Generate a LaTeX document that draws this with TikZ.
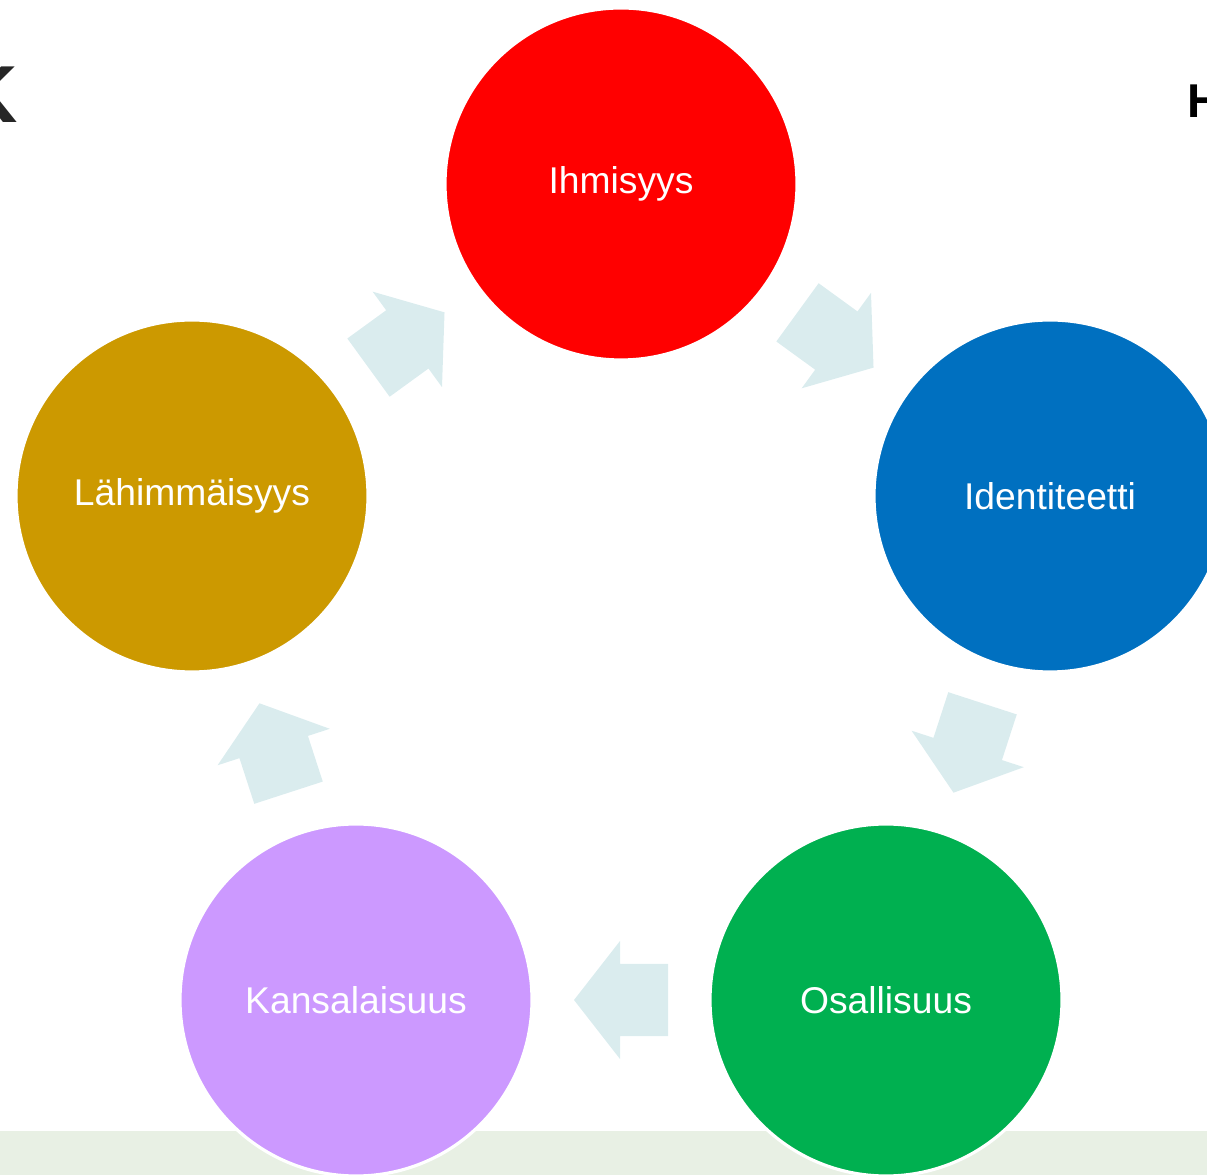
\documentclass[tikz,border=0pt]{standalone}
\usepackage{fontspec}
\setmainfont{Liberation Sans}
\usepackage{tikz-network}
\usetikzlibrary{calc}

\definecolor{cred}{RGB}{255,0,0}
\definecolor{cblue}{RGB}{0,112,192}
\definecolor{cgreen}{RGB}{0,176,80}
\definecolor{cpurple}{RGB}{204,153,255}
\definecolor{cgold}{RGB}{204,153,0}
\definecolor{carrow}{RGB}{218,236,238}
\definecolor{cstrip}{RGB}{232,240,228}
\newcommand{\lblfont}{\fontsize{10.6}{12}\selectfont}

\begin{document}
\begin{tikzpicture}
\useasboundingbox (0,0) rectangle (12.07,11.75);
\fill[cstrip] (0,0) rectangle (12.07,0.44);
\node[anchor=east, inner sep=0, text=black!85, font=\fontsize{23}{24}\selectfont\bfseries] (k) at (0.19,10.80) {K};
\node[anchor=west, inner sep=0, font=\fontsize{13.5}{15}\selectfont\bfseries] (h) at (11.865,10.74) {H};
\Vertex[label=Ihmisyys, x=6.21, y=9.91, size=3.52, color=cred, fontcolor=white, fontsize=\lblfont, style={draw=white, line width=0.9pt}]{i}
\Vertex[label=Identiteetti, x=10.50, y=6.79, size=3.52, color=cblue, fontcolor=white, fontsize=\lblfont, style={draw=white, line width=0.9pt}]{d}
\Vertex[label=Osallisuus, x=8.86, y=1.75, size=3.52, color=cgreen, fontcolor=white, fontsize=\lblfont, style={draw=white, line width=0.9pt}]{o}
\Vertex[label=Kansalaisuus, x=3.56, y=1.75, size=3.52, color=cpurple, fontcolor=white, fontsize=\lblfont, style={draw=white, line width=0.9pt}]{k2}
\Vertex[label=Lähimmäisyys, x=1.92, y=6.79, size=3.52, color=cgold, fontcolor=white, fontsize=\lblfont, style={draw=white, line width=0.9pt}]{l}
\foreach \a/\b/\ang in {i/d/-36, d/o/-108, o/k2/180, k2/l/108, l/i/36}
  \fill[carrow, shift={($(\a)!0.5!(\b)$)}, rotate=\ang] (-0.47,-0.36) -- (0.01,-0.36) -- (0.01,-0.59) -- (0.47,0) -- (0.01,0.59) -- (0.01,0.36) -- (-0.47,0.36) -- cycle;
\end{tikzpicture}
\end{document}
